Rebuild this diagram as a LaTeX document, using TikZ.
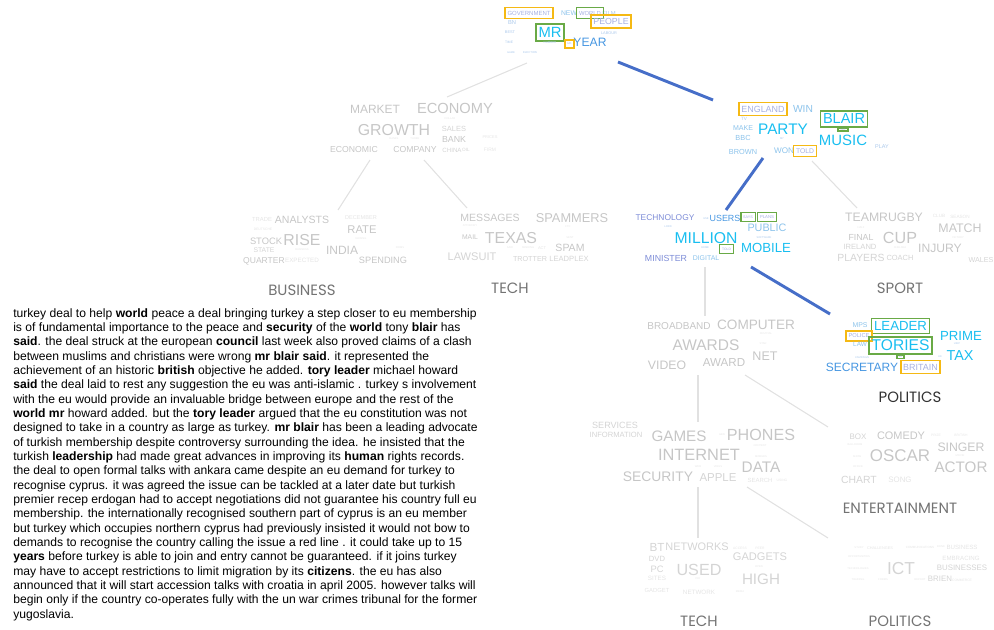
\documentclass[tikz,border=0pt]{standalone}
\usepackage{fontspec}
\setmainfont{Liberation Sans}
\newfontfamily\labelfont{Poppins}
\usepackage{tikz}
\usetikzlibrary{calc}

\definecolor{cyanw}{RGB}{25,190,240}
\definecolor{bluew}{RGB}{70,150,225}
\definecolor{ltbluew}{RGB}{140,195,235}
\definecolor{tinyblue}{RGB}{170,200,235}
\definecolor{lavw}{RGB}{125,140,215}
\definecolor{palelav}{RGB}{165,175,225}
\definecolor{boxorange}{RGB}{245,185,20}
\definecolor{boxgreen}{RGB}{105,170,70}
\definecolor{edgeblue}{RGB}{70,110,200}
\definecolor{edgegrey}{RGB}{225,225,225}
\definecolor{greyA}{RGB}{198,198,198}
\definecolor{greyB}{RGB}{212,212,212}
\definecolor{greyC}{RGB}{228,228,228}
\definecolor{labelgrey}{RGB}{115,115,115}
\definecolor{labeldark}{RGB}{50,50,50}

\tikzset{
  cword/.style 2 args={font=\fontsize{#1}{#1}\selectfont, text=#2, inner sep=0pt},
  bword/.style n args={3}{font=\fontsize{#1}{#1}\selectfont, text=#2, draw=#3,
    line width=1.1pt, inner xsep=1.8pt, inner ysep=2.4pt},
  clabel/.style={font=\labelfont\fontsize{11.2}{11.2}\selectfont, text=#1, inner sep=0pt},
  treeedge/.style={draw=edgegrey, line width=0.8pt},
  pathedge/.style={draw=edgeblue, line width=2.2pt},
}
\newcommand{\cloudword}[5]{\node[cword={#3}{#4}] (#1) at (#2) {#5};}
\newcommand{\boxword}[6]{\node[bword={#3}{#4}{#5}] (#1) at (#2) {#6};}

\begin{document}
\begin{tikzpicture}[x=0.75pt, y=-0.75pt]
  \useasboundingbox (0,0) rectangle (994,630);

  % tree edges
  \coordinate (top-l) at (527,63);   \coordinate (eco-in) at (447,97);
  \coordinate (top-r) at (618,62);   \coordinate (pol-in) at (713,100);
  \coordinate (eco-l) at (370,160);  \coordinate (bus-in) at (338,210);
  \coordinate (eco-r) at (424,160);  \coordinate (tec-in) at (467,208);
  \coordinate (pol-l) at (763,158);  \coordinate (mid-in) at (726,210);
  \coordinate (pol-r) at (812,161);  \coordinate (spo-in) at (857,208);
  \coordinate (mid-d) at (705,267);  \coordinate (awa-in) at (705,316);
  \coordinate (mid-r) at (751,267);  \coordinate (pq-in) at (830,314);
  \coordinate (awa-d) at (698,375);  \coordinate (gam-in) at (698,422);
  \coordinate (awa-r) at (745,375);  \coordinate (ent-in) at (828,427);
  \coordinate (gam-d) at (698,487);  \coordinate (tk-in) at (698,538);
  \coordinate (gam-r) at (747,487);  \coordinate (pr-in) at (828,538);
  \draw[treeedge] (top-l) -- (eco-in);
  \draw[treeedge] (eco-l) -- (bus-in);
  \draw[treeedge] (eco-r) -- (tec-in);
  \draw[treeedge] (pol-r) -- (spo-in);
  \draw[treeedge] (mid-d) -- (awa-in);
  \draw[treeedge] (awa-d) -- (gam-in);
  \draw[treeedge] (awa-r) -- (ent-in);
  \draw[treeedge] (gam-d) -- (tk-in);
  \draw[treeedge] (gam-r) -- (pr-in);
  \draw[pathedge] (top-r) -- (pol-in);
  \draw[pathedge] (pol-l) -- (mid-in);
  \draw[pathedge] (mid-r) -- (pq-in);

  % root cloud
  \boxword{t-gov}{529,13}{4.5}{palelav}{boxorange}{GOVERNMENT}
  \cloudword{t-new}{569,13}{5.1}{ltbluew}{NEW}
  \cloudword{t-film}{609,13}{4.4}{tinyblue}{FILM}
  \boxword{t-world}{590,13}{4.4}{palelav}{boxgreen}{WORLD}
  \boxword{t-people}{611,21.5}{6.6}{palelav}{boxorange}{PEOPLE}
  \cloudword{t-bn}{512,23}{4.3}{tinyblue}{BN}
  \cloudword{t-best}{510,32}{2.9}{tinyblue}{BEST}
  \boxword{t-mr}{550,32.5}{11.1}{cyanw}{boxgreen}{MR}
  \cloudword{t-labour}{609,33}{2.9}{tinyblue}{LABOUR}
  \cloudword{t-time}{509,42}{2.5}{tinyblue}{TIME}
  \cloudword{t-number}{550,43}{2.2}{tinyblue}{NUMBER}
  \boxword{t-uk}{569.5,44}{2.2}{palelav}{boxorange}{UK}
  \cloudword{t-year}{590,42.5}{9.1}{bluew}{YEAR}
  \cloudword{t-game}{511,53}{2}{tinyblue}{GAME}
  \cloudword{t-election}{530,53}{2.1}{tinyblue}{ELECTION}

  % politics cloud
  \boxword{p-england}{763,109}{6.7}{palelav}{boxorange}{ENGLAND}
  \cloudword{p-win}{803,109}{7.7}{ltbluew}{WIN}
  \cloudword{p-tv}{744,119}{3.5}{tinyblue}{TV}
  \cloudword{p-make}{743,128}{5.3}{ltbluew}{MAKE}
  \cloudword{p-party}{783,129}{11.5}{cyanw}{PARTY}
  \boxword{p-blair}{844,119}{10.9}{cyanw}{boxgreen}{BLAIR}
  \node[bword={1.6}{palelav}{boxgreen}, inner ysep=0.6pt, inner xsep=2pt] (p-small) at (843,129.5) {UKIP};
  \cloudword{p-music}{843,140}{11.2}{cyanw}{MUSIC}
  \cloudword{p-bbc}{743,138}{5.5}{ltbluew}{BBC}
  \cloudword{p-my}{782,139}{2}{tinyblue}{MY}
  \cloudword{p-brown}{743,152}{5.5}{ltbluew}{BROWN}
  \cloudword{p-won}{784,151}{6.1}{ltbluew}{WON}
  \boxword{p-told}{805,151}{5.1}{palelav}{boxorange}{TOLD}
  \cloudword{p-play}{882,147}{4.1}{tinyblue}{PLAY}

  % tech cloud
  \cloudword{m-technology}{665,218}{6.3}{lavw}{TECHNOLOGY}
  \cloudword{m-use}{706,219}{2}{tinyblue}{USE}
  \cloudword{m-users}{725,218}{6.7}{bluew}{USERS}
  \boxword{m-says}{748,217}{2.8}{palelav}{boxgreen}{SAYS}
  \boxword{m-plans}{767,217}{3.2}{palelav}{boxgreen}{PLANS}
  \cloudword{m-lord}{668,227}{2}{tinyblue}{LORD}
  \cloudword{m-public}{767,228}{8.1}{ltbluew}{PUBLIC}
  \cloudword{m-software}{764,238}{2}{tinyblue}{SOFTWARE}
  \cloudword{m-million}{706,238.5}{11.8}{cyanw}{MILLION}
  \cloudword{m-home}{705,248}{2}{tinyblue}{HOME}
  \boxword{m-told}{726.5,249}{2.5}{palelav}{boxgreen}{TOLD}
  \cloudword{m-mobile}{766,248}{9.9}{cyanw}{MOBILE}
  \cloudword{m-minister}{666,258}{6.6}{lavw}{MINISTER}
  \cloudword{m-digital}{706,258}{5.2}{ltbluew}{DIGITAL}

  % politics leaf
  \cloudword{q-mps}{860,325}{5.2}{ltbluew}{MPS}
  \boxword{q-leader}{900.5,326}{9.9}{cyanw}{boxgreen}{LEADER}
  \boxword{q-police}{859,336}{4.3}{palelav}{boxorange}{POLICE}
  \cloudword{q-prime}{961,335.5}{9.9}{cyanw}{PRIME}
  \cloudword{q-law}{860,344}{4.8}{ltbluew}{LAW}
  \boxword{q-tories}{900.5,345.5}{11.7}{cyanw}{boxgreen}{TORIES}
  \cloudword{q-ukip}{957,344}{2}{tinyblue}{UKIP}
  \cloudword{q-tax}{960,356}{10.8}{cyanw}{TAX}
  \cloudword{q-campaign}{862,358}{2}{tinyblue}{CAMPAIGN}
  \node[bword={1.6}{palelav}{boxgreen}, inner ysep=0.6pt, inner xsep=1.5pt] (q-small) at (900.5,357) {MR};
  \cloudword{q-uk}{940,357}{2}{tinyblue}{UK}
  \cloudword{q-secretary}{862,367}{9}{bluew}{SECRETARY}
  \boxword{q-britain}{920.5,367}{6.7}{palelav}{boxorange}{BRITAIN}
  \node[clabel=labeldark] (q-label) at (910,397) {POLITICS};

  % economy cloud
  \cloudword{e-market}{375,109}{9}{greyA}{MARKET}
  \cloudword{e-economy}{455,108}{11}{greyA}{ECONOMY}
  \cloudword{e-dollar}{450,119}{2}{greyC}{DOLLAR}
  \cloudword{e-growth}{394,130}{11.9}{greyA}{GROWTH}
  \cloudword{e-sales}{454,129}{5.6}{greyB}{SALES}
  \cloudword{e-prices}{490,137}{3}{greyC}{PRICES}
  \cloudword{e-bank}{454,139}{6.6}{greyA}{BANK}
  \cloudword{e-banks}{394,139}{2}{greyC}{BANKS}
  \cloudword{e-three}{415,139}{2}{greyC}{THREE}
  \cloudword{e-economic}{354,150}{6.5}{greyA}{ECONOMIC}
  \cloudword{e-company}{415,150}{6.5}{greyA}{COMPANY}
  \cloudword{e-china}{452,150}{4.6}{greyB}{CHINA}
  \cloudword{e-oil}{466,150}{3.5}{greyB}{OIL}
  \cloudword{e-firm}{490,150}{3.7}{greyC}{FIRM}

  % business leaf
  \cloudword{b-trade}{262,219}{4.4}{greyC}{TRADE}
  \cloudword{b-analysts}{302,219.5}{7.9}{greyA}{ANALYSTS}
  \cloudword{b-december}{361,218}{4.2}{greyC}{DECEMBER}
  \cloudword{b-deutsche}{263,229}{2.5}{greyC}{DEUTSCHE}
  \cloudword{b-rate}{362,230}{8.4}{greyA}{RATE}
  \cloudword{b-stock}{266,241}{7}{greyA}{STOCK}
  \cloudword{b-rise}{302,240}{11.9}{greyA}{RISE}
  \cloudword{b-raising}{361,239}{2}{greyC}{RAISING}
  \cloudword{b-state}{264,250}{5.1}{greyB}{STATE}
  \cloudword{b-business}{302,250}{2}{greyC}{BUSINESS}
  \cloudword{b-india}{342,250}{9}{greyA}{INDIA}
  \cloudword{b-firms}{400,248}{2}{greyC}{FIRMS}
  \cloudword{b-quarter}{264,261}{6.4}{greyA}{QUARTER}
  \cloudword{b-expected}{302,260}{4.7}{greyC}{EXPECTED}
  \cloudword{b-spending}{383,260}{6.9}{greyA}{SPENDING}
  \node[clabel=labelgrey] (b-label) at (302,290) {BUSINESS};

  % tech leaf
  \cloudword{g-messages}{490,218}{7.9}{greyA}{MESSAGES}
  \cloudword{g-spammers}{572,218}{9.6}{greyA}{SPAMMERS}
  \cloudword{g-attorney}{470,226}{2}{greyC}{ATTORNEY}
  \cloudword{g-ftc}{568,227}{2}{greyC}{FTC}
  \cloudword{g-mail}{470,237}{5.1}{greyA}{MAIL}
  \cloudword{g-texas}{511,238}{11.9}{greyA}{TEXAS}
  \cloudword{g-sent}{570,238}{2}{greyC}{SENT}
  \cloudword{g-said}{510,248}{2}{greyC}{SAID}
  \cloudword{g-sending}{528,248}{2}{greyC}{SENDING}
  \cloudword{g-act}{542,248}{3}{greyC}{ACT}
  \cloudword{g-spam}{570,248}{7.9}{greyA}{SPAM}
  \cloudword{g-lawsuit}{472,257}{8.3}{greyB}{LAWSUIT}
  \cloudword{g-trotter}{530,259}{5.4}{greyB}{TROTTER}
  \cloudword{g-leadplex}{569,259}{5.7}{greyB}{LEADPLEX}
  \node[clabel=labelgrey] (g-label) at (510,288) {TECH};

  % sport leaf
  \cloudword{s-teamrugby}{884,217}{9.2}{greyA}{TEAMRUGBY}
  \cloudword{s-club}{939,216}{3.5}{greyC}{CLUB}
  \cloudword{s-season}{960,217}{3.5}{greyC}{SEASON}
  \cloudword{s-half}{861,228}{2}{greyC}{HALF}
  \cloudword{s-match}{960,228}{9.3}{greyA}{MATCH}
  \cloudword{s-final}{861,237}{6.6}{greyA}{FINAL}
  \cloudword{s-cup}{900,238}{12.1}{greyA}{CUP}
  \cloudword{s-victory}{958,238}{2}{greyC}{VICTORY}
  \cloudword{s-ireland}{860,247}{5.7}{greyB}{IRELAND}
  \cloudword{s-chelsea}{900,248}{2}{greyC}{CHELSEA}
  \cloudword{s-injury}{940,248}{9.1}{greyA}{INJURY}
  \cloudword{s-players}{861,258}{7.8}{greyB}{PLAYERS}
  \cloudword{s-coach}{900,258}{5.6}{greyB}{COACH}
  \cloudword{s-wales}{981,260}{5.4}{greyB}{WALES}
  \node[clabel=labelgrey] (s-label) at (900,288) {SPORT};

  % awards cloud
  \cloudword{a-broadband}{679,326}{7.5}{greyA}{BROADBAND}
  \cloudword{a-computer}{756,325}{10.2}{greyA}{COMPUTER}
  \cloudword{a-festival}{766,334}{2}{greyC}{FESTIVAL}
  \cloudword{a-awards}{706,345}{11.6}{greyA}{AWARDS}
  \cloudword{a-star}{763,344}{2}{greyC}{STAR}
  \cloudword{a-net}{765,356}{9.4}{greyA}{NET}
  \cloudword{a-video}{667,365}{9.2}{greyA}{VIDEO}
  \cloudword{a-award}{724,363}{8.7}{greyA}{AWARD}

  % games cloud
  \cloudword{h-services}{615,425}{6.8}{greyB}{SERVICES}
  \cloudword{h-information}{616,435}{5.7}{greyB}{INFORMATION}
  \cloudword{h-games}{679,436}{11.4}{greyA}{GAMES}
  \cloudword{h-gen}{722,435}{2}{greyC}{GEN}
  \cloudword{h-phones}{761,435}{12.1}{greyA}{PHONES}
  \cloudword{h-content}{760,446}{2}{greyC}{CONTENT}
  \cloudword{h-internet}{699,455}{12.3}{greyA}{INTERNET}
  \cloudword{h-mobiles}{761,457}{2}{greyC}{MOBILES}
  \cloudword{h-data}{761,467}{11.5}{greyA}{DATA}
  \cloudword{h-web}{698,467}{2}{greyC}{WEB}
  \cloudword{h-virus}{718,467}{2}{greyC}{VIRUS}
  \cloudword{h-security}{658,477}{10.4}{greyA}{SECURITY}
  \cloudword{h-apple}{718,478}{8.6}{greyB}{APPLE}
  \cloudword{h-search}{760,480}{4.5}{greyC}{SEARCH}
  \cloudword{h-using}{782,480}{2.5}{greyC}{USING}

  % entertainment leaf
  \cloudword{n-box}{858,437}{6}{greyB}{BOX}
  \cloudword{n-comedy}{901,436}{8.2}{greyA}{COMEDY}
  \cloudword{n-prize}{936,435}{2.5}{greyC}{PRIZE}
  \cloudword{n-british}{961,435}{2.5}{greyC}{BRITISH}
  \cloudword{n-ballroom}{855,445}{2}{greyC}{BALLROOM}
  \cloudword{n-singer}{961,447}{9.2}{greyA}{SINGER}
  \cloudword{n-show}{857,457}{2}{greyC}{SHOW}
  \cloudword{n-oscar}{900,456}{12.7}{greyA}{OSCAR}
  \cloudword{n-movie}{960,456}{2}{greyC}{MOVIE}
  \cloudword{n-office}{858,467}{2}{greyC}{OFFICE}
  \cloudword{n-actor}{961,467}{11.4}{greyA}{ACTOR}
  \cloudword{n-chart}{859,480}{7.8}{greyB}{CHART}
  \cloudword{n-song}{900,480}{5.9}{greyC}{SONG}
  \node[clabel=labelgrey] (n-label) at (900,508) {ENTERTAINMENT};

  % tech leaf (bottom)
  \cloudword{k-bt}{657,547}{8.8}{greyB}{BT}
  \cloudword{k-networks}{697,547}{8.2}{greyB}{NETWORKS}
  \cloudword{k-access}{740,548}{2.5}{greyC}{ACCESS}
  \cloudword{k-peer}{760,548}{2.5}{greyC}{PEER}
  \cloudword{k-dvd}{657,559}{5.7}{greyB}{DVD}
  \cloudword{k-gadgets}{760,557}{8.3}{greyB}{GADGETS}
  \cloudword{k-pc}{657,569}{7}{greyB}{PC}
  \cloudword{k-used}{699,569.5}{12.1}{greyB}{USED}
  \cloudword{k-open}{759,567}{2}{greyC}{OPEN}
  \cloudword{k-sites}{657,578}{4.7}{greyC}{SITES}
  \cloudword{k-pay}{698,579}{2}{greyC}{PAY}
  \cloudword{k-high}{761,579}{11.4}{greyB}{HIGH}
  \cloudword{k-gadget}{657,590}{4.4}{greyC}{GADGET}
  \cloudword{k-network}{699,592}{4.7}{greyC}{NETWORK}
  \cloudword{k-media}{740,592}{2}{greyC}{MEDIA}
  \node[clabel=labelgrey] (k-label) at (699,621) {TECH};

  % politics leaf (bottom)
  \cloudword{r-study}{859,548}{2}{greyC}{STUDY}
  \cloudword{r-challenges}{880,548}{2.9}{greyC}{CHALLENGES}
  \cloudword{r-communications}{920,547}{2.3}{greyC}{COMMUNICATIONS}
  \cloudword{r-bond}{941,547}{2}{greyC}{BOND}
  \cloudword{r-business}{962,547}{4.6}{greyC}{BUSINESS}
  \cloudword{r-opportunities}{859,557}{2}{greyC}{OPPORTUNITIES}
  \cloudword{r-embracing}{961,558}{4.6}{greyC}{EMBRACING}
  \cloudword{r-technologies}{858,569}{2}{greyC}{TECHNOLOGIES}
  \cloudword{r-ict}{901,569}{13}{greyB}{ICT}
  \cloudword{r-businesses}{962,568}{5.9}{greyB}{BUSINESSES}
  \cloudword{r-training}{858,580}{2}{greyC}{TRAINING}
  \cloudword{r-forms}{883,580}{2}{greyC}{FORMS}
  \cloudword{r-report}{920,580}{2}{greyC}{REPORT}
  \cloudword{r-brien}{940,579}{5.9}{greyB}{BRIEN}
  \cloudword{r-commerce}{962,580}{2.5}{greyC}{COMMERCE}
  \node[clabel=labelgrey] (r-label) at (900,621) {POLITICS};

  % article text
  \node[anchor=north west, inner sep=0pt, align=left,
        font=\fontsize{9.1}{10.75}\selectfont] (article) at (13,308) {%
    turkey deal to help \textbf{world} peace a deal bringing turkey a step closer to eu membership\\
    is of fundamental importance to the peace and \textbf{security} of the \textbf{world} tony \textbf{blair} has\\
    \textbf{said}. the deal struck at the european \textbf{council} last week also proved claims of a clash\\
    between muslims and christians were wrong \textbf{mr blair said}. it represented the\\
    achievement of an historic \textbf{british} objective he added. \textbf{tory leader} michael howard\\
    \textbf{said} the deal laid to rest any suggestion the eu was anti-islamic . turkey s involvement\\
    with the eu would provide an invaluable bridge between europe and the rest of the\\
    \textbf{world mr} howard added. but the \textbf{tory leader} argued that the eu constitution was not\\
    designed to take in a country as large as turkey. \textbf{mr blair} has been a leading advocate\\
    of turkish membership despite controversy surrounding the idea. he insisted that the\\
    turkish \textbf{leadership} had made great advances in improving its \textbf{human} rights records.\\
    the deal to open formal talks with ankara came despite an eu demand for turkey to\\
    recognise cyprus. it was agreed the issue can be tackled at a later date but turkish\\
    premier recep erdogan had to accept negotiations did not guarantee his country full eu\\
    membership. the internationally recognised southern part of cyprus is an eu member\\
    but turkey which occupies northern cyprus had previously insisted it would not bow to\\
    demands to recognise the country calling the issue a red line . it could take up to 15\\
    \textbf{years} before turkey is able to join and entry cannot be guaranteed. if it joins turkey\\
    may have to accept restrictions to limit migration by its \textbf{citizens}. the eu has also\\
    announced that it will start accession talks with croatia in april 2005. however talks will\\
    begin only if the country co-operates fully with the un war crimes tribunal for the former\\
    yugoslavia.};
\end{tikzpicture}
\end{document}
